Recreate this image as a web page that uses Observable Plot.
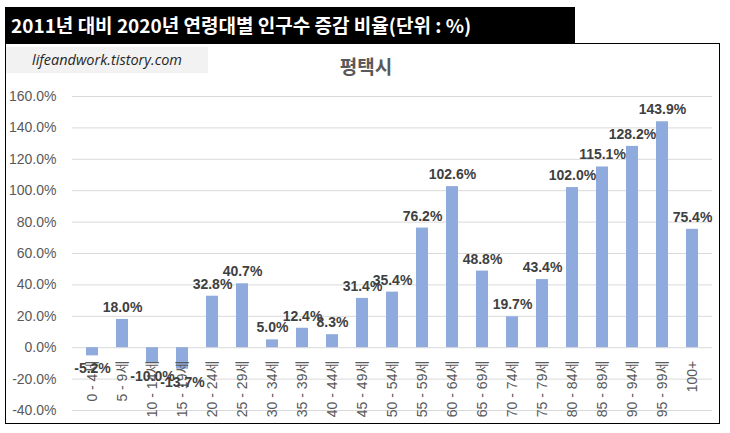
<!DOCTYPE html>
<html><head><meta charset="utf-8">
<script src="https://cdn.jsdelivr.net/npm/d3@7"></script>
<script src="https://cdn.jsdelivr.net/npm/@observablehq/plot@0.6"></script>
<style>
body{margin:0;background:#fff;}
#wrap{position:relative;width:730px;height:433px;overflow:hidden;font-family:"Noto Sans CJK KR",sans-serif;}
#title{position:absolute;left:5px;top:7px;width:570px;height:36px;background:#000;color:#fff;font-weight:bold;font-size:19px;line-height:36px;padding-left:6px;box-sizing:border-box;white-space:nowrap;}
#box{position:absolute;left:5px;top:43px;width:715px;height:381px;border:1px solid #000;box-sizing:border-box;}
#wm{position:absolute;left:0;top:3px;width:202px;height:26px;background:#f2f2f2;font-style:italic;font-family:"Open Sans",sans-serif;font-size:14.5px;line-height:26px;text-align:center;color:#262626;}
#sub{position:absolute;left:7px;right:0;top:9px;text-align:center;font-size:19px;line-height:26px;font-weight:bold;color:#595959;}
#chart{position:absolute;left:0;top:80px;}
</style></head>
<body>
<div id="wrap">
  <div id="title">2011년 대비 2020년 연령대별 인구수 증감 비율(단위 : %)</div>
  <div id="box">
    <div id="wm">lifeandwork.tistory.com</div>
    <div id="sub">평택시</div>
  </div>
  <div id="chart"></div>
</div>
<script>
const ages = ["0 - 4세","5 - 9세","10 - 14세","15 - 19세","20 - 24세","25 - 29세","30 - 34세","35 - 39세","40 - 44세","45 - 49세","50 - 54세","55 - 59세","60 - 64세","65 - 69세","70 - 74세","75 - 79세","80 - 84세","85 - 89세","90 - 94세","95 - 99세","100+"];
const values = [-5.2, 18.0, -10.0, -13.7, 32.8, 40.7, 5.0, 12.4, 8.3, 31.4, 35.4, 76.2, 102.6, 48.8, 19.7, 43.4, 102.0, 115.1, 128.2, 143.9, 75.4];
const yTicks = [-40, -20, 0, 20, 40, 60, 80, 100, 120, 140, 160];

const data = ages.map((a, i) => ({age: a, value: values[i]}));
const fmt = d => d.toFixed(1) + "%";
const font = "'Liberation Sans', 'Noto Sans CJK KR', sans-serif";

const chart = Plot.plot({
  width: 730, height: 340,
  marginLeft: 72, marginRight: 18, marginTop: 16, marginBottom: 10,
  style: {fontFamily: font, background: "transparent", overflow: "visible"},
  x: {domain: ages, paddingInner: 0.6, paddingOuter: 0.3, axis: null},
  y: {domain: [-40, 160], axis: null},
  marks: [
    Plot.ruleY(yTicks, {stroke: "#d9d9d9", strokeWidth: 1}),
    Plot.text(yTicks, {y: d => d, frameAnchor: "left", dx: -16, textAnchor: "end", text: fmt, fill: "#595959", fontSize: 14}),
    Plot.barY(data, {x: "age", y: "value", fill: "#8faadc"}),
    Plot.text(data, {x: "age", y: () => 0, dy: 13, rotate: -90, textAnchor: "end", text: "age", fill: "#595959", fontSize: 14}),
    Plot.text(data.filter(d => d.value >= 0), {x: "age", y: "value", dy: -12, text: d => fmt(d.value), fill: "#404040", fontWeight: "bold", fontSize: 14}),
    Plot.text(data.filter(d => d.value < 0), {x: "age", y: "value", dy: 13, text: d => fmt(d.value), fill: "#404040", fontWeight: "bold", fontSize: 14})
  ]
});
document.getElementById("chart").appendChild(chart);
</script>
</body></html>
